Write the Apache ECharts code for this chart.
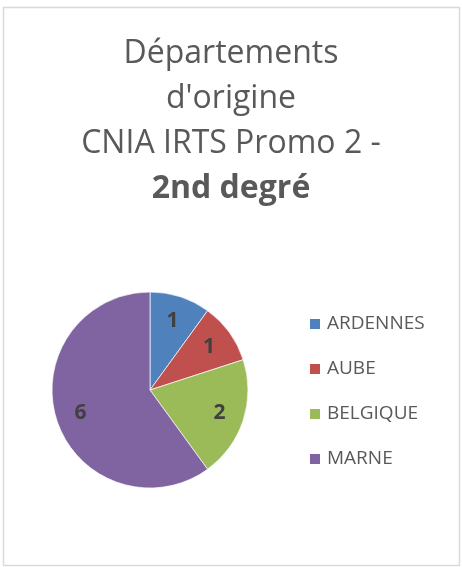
<!DOCTYPE html>
<html>
<head>
    <meta charset="utf-8">
    <script src="https://cdn.jsdelivr.net/npm/echarts@6/dist/echarts.min.js"></script>
    <title>Départements d'origine</title>
    <style>
        html, body { margin: 0; padding: 0; background: #fff; }
        #container { width: 462px; height: 567px; }
    </style>
</head>
<body>
    <div id="container"></div>
    <script>
        // données
        var departements = ['ARDENNES', 'AUBE', 'BELGIQUE', 'MARNE'];
        var effectifs = [1, 1, 2, 6];
        var couleurs = ['#4F81BD', '#C0504D', '#9BBB59', '#8064A2'];

        var data = [];
        for (var i = 0; i < departements.length; i++) {
            data.push({ name: departements[i], value: effectifs[i] });
        }

        var myChart = echarts.init(document.getElementById('container'));

        var option = {
            backgroundColor: '#fff',
            color: couleurs,
            animation: false,
            title: {
                left: 'center',
                top: 31,
                padding: 0,
                text: '{a|Départements}\n{a|d\'origine}\n{a|CNIA IRTS Promo 2 -}\n{b|2nd degré}',
                textStyle: {
                    fontWeight: 'normal',
                    rich: {
                        a: { fontFamily: 'Open Sans', fontSize: 32, fontWeight: 'normal', color: '#595959', lineHeight: 45 },
                        b: { fontFamily: 'Open Sans', fontSize: 32, fontWeight: 'bold', color: '#595959', lineHeight: 45 }
                    }
                }
            },
            legend: {
                orient: 'vertical',
                left: 308,
                top: 314,
                padding: 0,
                itemWidth: 12,
                itemHeight: 12,
                itemGap: 25,
                icon: 'rect',
                data: departements,
                textStyle: {
                    fontFamily: 'Open Sans',
                    fontSize: 19,
                    color: '#595959',
                    lineHeight: 20,
                    padding: [0, 0, 0, 1]
                }
            },
            graphic: [{
                type: 'rect',
                silent: true,
                shape: { x: 3.5, y: 7.5, width: 456, height: 558 },
                style: { fill: 'none', stroke: '#d9d9d9', lineWidth: 1.5 }
            }],
            series: [{
                name: 'parts',
                type: 'pie',
                center: [150, 390],
                radius: 98,
                startAngle: 90,
                clockwise: true,
                label: { show: false },
                labelLine: { show: false },
                itemStyle: { borderColor: '#fff', borderWidth: 0.7 },
                emphasis: { disabled: true },
                data: data
            }, {
                // étiquettes seulement, placées vers 0.7 du rayon
                name: 'etiquettes',
                type: 'pie',
                center: [150, 390],
                radius: [42, 98],
                startAngle: 90,
                clockwise: true,
                silent: true,
                itemStyle: { color: 'transparent' },
                labelLine: { show: false },
                label: {
                    show: true,
                    position: 'inside',
                    formatter: '{c}',
                    fontFamily: 'Open Sans',
                    fontSize: 21,
                    fontWeight: 'bold',
                    color: '#404040'
                },
                emphasis: { disabled: true },
                data: data
            }]
        };

        myChart.setOption(option);
    </script>
</body>
</html>
